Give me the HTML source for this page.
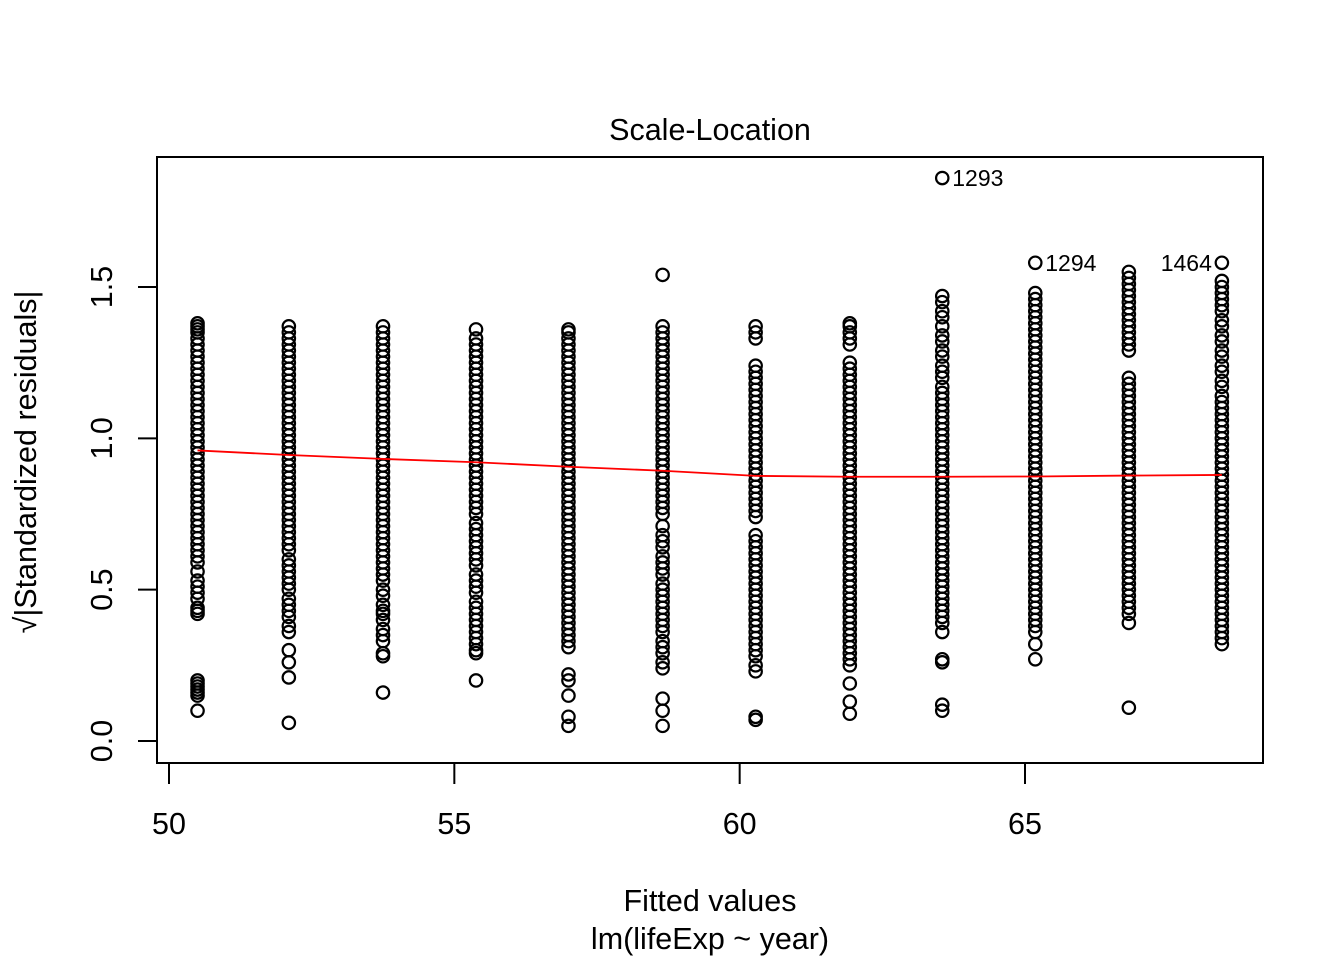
<!DOCTYPE html>
<html><head><meta charset="utf-8"><style>
html,body{margin:0;padding:0;background:#fff;}
svg{display:block;font-family:"Liberation Sans",Arial,sans-serif;}
</style></head><body>
<svg id="chart" width="1344" height="960" viewBox="0 0 1344 960" xmlns="http://www.w3.org/2000/svg">
<rect width="1344" height="960" fill="#fff"/>
<text x="710" y="140" font-size="30.5" text-anchor="middle">Scale-Location</text>
<rect x="157" y="157" width="1106" height="606" fill="none" stroke="#000" stroke-width="2"/>
<g id="xaxis"></g>
<g id="yaxis"></g>
<g id="points"></g>
<g id="smooth"></g>
<g id="labels"></g>
<text x="710" y="911" font-size="30.5" text-anchor="middle">Fitted values</text>
<text x="710" y="949" font-size="30.5" text-anchor="middle">lm(lifeExp ~ year)</text>
<text transform="translate(36,462) rotate(-90)" font-size="30.5" text-anchor="middle">√|Standardized residuals|</text>
</svg>
<script>
const fitted = [50.5,52.1,53.75,55.38,57.0,58.65,60.28,61.93,63.55,65.18,66.82,68.45];
const smoothVals = [0.96,0.945,0.932,0.921,0.906,0.893,0.876,0.873,0.873,0.874,0.877,0.879];
const xTicks = [50,55,60,65];
const yTicks = [0.0,0.5,1.0,1.5];
const col1 = [1.38,1.37,1.36,1.35,1.33,1.31,1.29,1.27,1.25,1.23,1.21,1.19,1.17,1.15,1.13,1.11,1.09,1.07,1.05,1.03,1.01,0.99,0.97,0.95,0.93,0.91,0.89,0.87,0.85,0.83,0.81,0.79,0.77,0.75,0.73,0.71,0.69,0.67,0.65,0.63,0.61,0.59,0.56,0.53,0.51,0.49,0.47,0.44,0.43,0.42,0.20,0.19,0.18,0.17,0.16,0.15,0.10];
const col2 = [1.37,1.35,1.33,1.31,1.29,1.27,1.25,1.23,1.21,1.19,1.17,1.15,1.13,1.11,1.09,1.07,1.05,1.03,1.01,0.99,0.97,0.95,0.93,0.91,0.89,0.87,0.85,0.83,0.81,0.79,0.77,0.75,0.73,0.71,0.69,0.67,0.65,0.63,0.60,0.58,0.56,0.54,0.52,0.50,0.47,0.45,0.43,0.41,0.38,0.36,0.30,0.26,0.21,0.06];
const col3 = [1.37,1.35,1.33,1.31,1.29,1.27,1.25,1.23,1.21,1.19,1.17,1.15,1.13,1.11,1.09,1.07,1.05,1.03,1.01,0.99,0.97,0.95,0.93,0.91,0.89,0.87,0.85,0.83,0.81,0.79,0.77,0.75,0.73,0.71,0.69,0.67,0.65,0.63,0.61,0.59,0.57,0.55,0.53,0.50,0.48,0.45,0.43,0.42,0.40,0.37,0.35,0.33,0.29,0.28,0.16];
const col4 = [1.36,1.33,1.31,1.29,1.27,1.25,1.23,1.21,1.19,1.17,1.15,1.13,1.11,1.09,1.07,1.05,1.03,1.01,0.99,0.97,0.95,0.93,0.91,0.89,0.87,0.85,0.83,0.81,0.79,0.77,0.75,0.72,0.70,0.68,0.66,0.64,0.62,0.60,0.58,0.55,0.53,0.51,0.49,0.46,0.44,0.42,0.40,0.38,0.36,0.34,0.32,0.30,0.29,0.20];
const col5 = [1.36,1.35,1.33,1.31,1.29,1.27,1.25,1.23,1.21,1.19,1.17,1.15,1.13,1.11,1.09,1.07,1.05,1.03,1.01,0.99,0.97,0.95,0.93,0.91,0.89,0.87,0.85,0.83,0.81,0.79,0.77,0.75,0.73,0.71,0.69,0.67,0.65,0.63,0.61,0.59,0.57,0.55,0.53,0.51,0.49,0.47,0.45,0.43,0.41,0.39,0.37,0.35,0.33,0.31,0.22,0.20,0.15,0.08,0.05];
const col6 = [1.54,1.37,1.35,1.33,1.31,1.29,1.27,1.25,1.23,1.21,1.19,1.17,1.15,1.13,1.11,1.09,1.07,1.05,1.03,1.01,0.99,0.97,0.95,0.93,0.91,0.89,0.87,0.85,0.83,0.81,0.79,0.77,0.75,0.71,0.68,0.66,0.64,0.61,0.59,0.57,0.55,0.52,0.50,0.48,0.46,0.44,0.42,0.40,0.38,0.36,0.33,0.31,0.29,0.26,0.24,0.14,0.10,0.05];
const col7 = [1.37,1.35,1.33,1.24,1.22,1.20,1.18,1.16,1.14,1.12,1.10,1.08,1.06,1.04,1.02,1.00,0.98,0.96,0.94,0.92,0.90,0.88,0.86,0.84,0.82,0.80,0.78,0.76,0.74,0.68,0.66,0.64,0.62,0.60,0.58,0.56,0.54,0.52,0.50,0.48,0.46,0.44,0.42,0.40,0.38,0.36,0.34,0.32,0.30,0.28,0.25,0.23,0.08,0.07];
const col8 = [1.38,1.37,1.35,1.33,1.31,1.25,1.23,1.21,1.19,1.17,1.15,1.13,1.11,1.09,1.07,1.05,1.03,1.01,0.99,0.97,0.95,0.93,0.91,0.89,0.87,0.85,0.83,0.81,0.79,0.77,0.75,0.73,0.71,0.69,0.67,0.65,0.63,0.61,0.59,0.57,0.55,0.53,0.51,0.49,0.47,0.45,0.43,0.41,0.39,0.37,0.35,0.33,0.31,0.29,0.27,0.25,0.19,0.13,0.09];
const col9 = [1.86,1.47,1.45,1.42,1.40,1.37,1.34,1.32,1.29,1.27,1.24,1.22,1.20,1.17,1.15,1.13,1.11,1.09,1.07,1.05,1.03,1.01,0.99,0.97,0.95,0.93,0.91,0.89,0.87,0.85,0.83,0.81,0.79,0.77,0.75,0.73,0.71,0.69,0.67,0.65,0.63,0.61,0.59,0.57,0.55,0.53,0.51,0.49,0.47,0.45,0.43,0.41,0.39,0.36,0.27,0.26,0.12,0.10];
const col10 = [1.58,1.48,1.46,1.44,1.42,1.40,1.38,1.36,1.34,1.32,1.30,1.28,1.26,1.24,1.22,1.20,1.18,1.16,1.14,1.12,1.10,1.08,1.06,1.04,1.02,1.00,0.98,0.96,0.94,0.92,0.90,0.88,0.86,0.84,0.82,0.80,0.78,0.76,0.74,0.72,0.70,0.68,0.66,0.64,0.62,0.60,0.58,0.56,0.54,0.52,0.50,0.48,0.46,0.44,0.42,0.40,0.38,0.36,0.32,0.27];
const col11 = [1.55,1.53,1.51,1.49,1.47,1.45,1.43,1.41,1.39,1.37,1.35,1.33,1.31,1.29,1.20,1.18,1.16,1.14,1.12,1.10,1.08,1.06,1.04,1.02,1.00,0.98,0.96,0.94,0.92,0.90,0.88,0.86,0.84,0.82,0.80,0.78,0.76,0.74,0.72,0.70,0.68,0.66,0.64,0.62,0.60,0.58,0.56,0.54,0.52,0.50,0.48,0.46,0.44,0.42,0.39,0.11];
const col12 = [1.58,1.52,1.50,1.48,1.46,1.44,1.42,1.39,1.37,1.34,1.32,1.29,1.27,1.24,1.22,1.19,1.17,1.14,1.12,1.10,1.08,1.06,1.04,1.02,1.00,0.98,0.96,0.94,0.92,0.90,0.88,0.86,0.84,0.82,0.80,0.78,0.76,0.74,0.72,0.70,0.68,0.66,0.64,0.62,0.60,0.58,0.56,0.54,0.52,0.50,0.48,0.46,0.44,0.42,0.40,0.38,0.36,0.34,0.32];
const columns = [col1,col2,col3,col4,col5,col6,col7,col8,col9,col10,col11,col12];
const outlierIds = ["1293","1294","1464"];
const outlierCols = [8,9,11];
const outlierVals = [1.86,1.58,1.58];

const NS="http://www.w3.org/2000/svg";
function xs(v){return 169+(v-50)*(1025-169)/15;}
function ys(v){return 741-v*(741-287)/1.5;}
function mk(tag,attrs,parent){const e=document.createElementNS(NS,tag);for(const k in attrs)e.setAttribute(k,attrs[k]);parent.appendChild(e);return e;}

const xa=document.getElementById('xaxis');
xTicks.forEach(t=>{
  const tk=mk('line',{x1:xs(t),x2:xs(t),y1:763,y2:784,stroke:'#000','stroke-width':2},xa);
  
  
  const tx=mk('text',{x:xs(t),y:834,'font-size':30.5,'text-anchor':'middle'},xa);
  tx.textContent=t;
  
  
});
const ya=document.getElementById('yaxis');
yTicks.forEach(t=>{
  const tk=mk('line',{x1:138,x2:157,y1:ys(t),y2:ys(t),stroke:'#000','stroke-width':2},ya);
  
  
  const tx=mk('text',{transform:`translate(112,${ys(t)}) rotate(-90)`,'font-size':30.5,'text-anchor':'middle'},ya);
  tx.textContent=t.toFixed(1);
  
  
});
const pg=document.getElementById('points');
columns.forEach((col,i)=>{
  col.forEach(v=>{
    const c=mk('circle',{cx:xs(fitted[i]),cy:ys(v),r:6.2,fill:'none',stroke:'#000','stroke-width':2.2},pg);
    
    
  });
});
const sg=document.getElementById('smooth');
const pl=mk('polyline',{points:fitted.map((f,i)=>xs(f)+','+ys(smoothVals[i])).join(' '),fill:'none',stroke:'#ff0000','stroke-width':1.8},sg);


const lg=document.getElementById('labels');
outlierIds.forEach((id,i)=>{
  const x=xs(fitted[outlierCols[i]]), y=ys(outlierVals[i]);
  const left = i===2;
  const tx=mk('text',{x:left?x-10:x+10,y:y+8,'font-size':23,'text-anchor':left?'end':'start'},lg);
  tx.textContent=id;
  
  
});
</script>
</body></html>
